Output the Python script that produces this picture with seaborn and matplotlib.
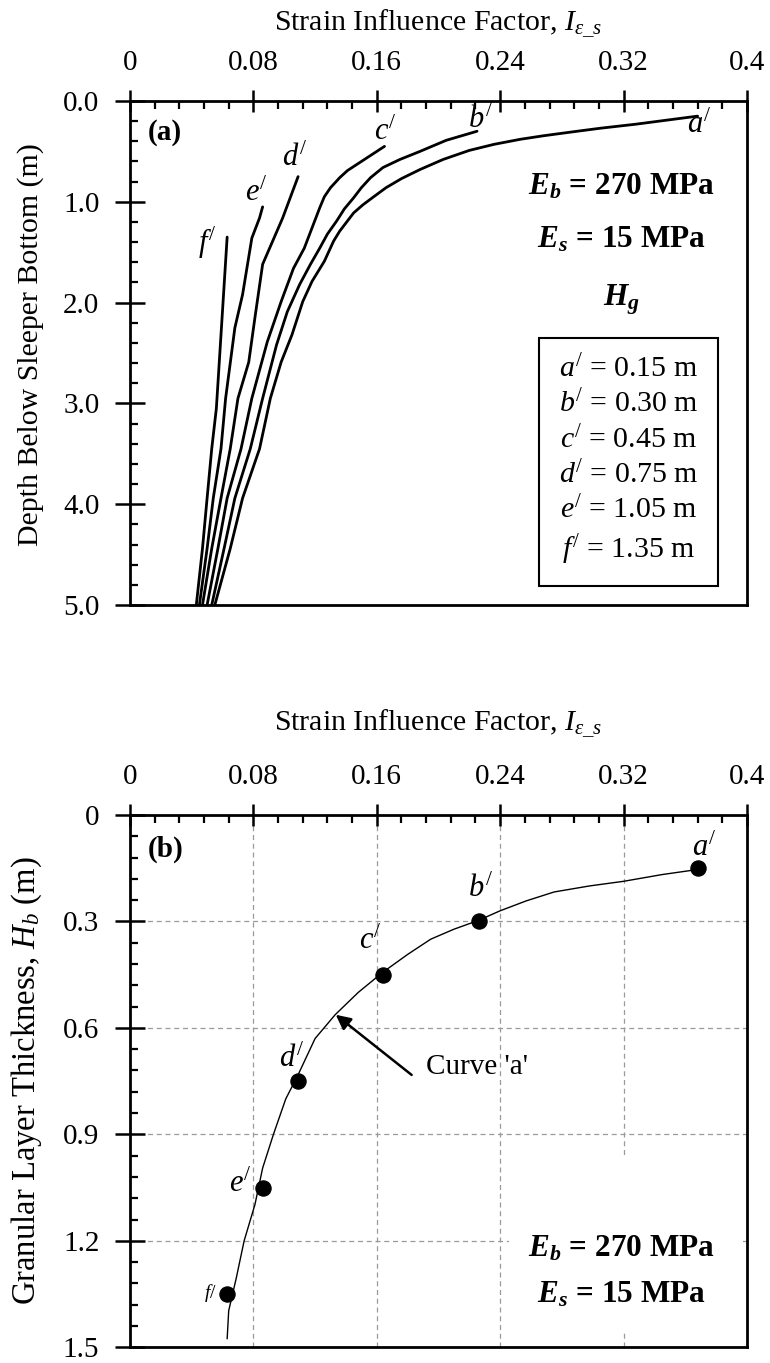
import numpy as np
import pandas as pd
import matplotlib
matplotlib.use("Agg")
import matplotlib.pyplot as plt
import seaborn as sns
from matplotlib.patches import Rectangle
from matplotlib.ticker import FixedLocator, MultipleLocator

# curve names and granular layer thickness H_g (m)
curve_names = ["a", "b", "c", "d", "e", "f"]
hg_values = [0.15, 0.30, 0.45, 0.75, 1.05, 1.35]

# panel (a): strain influence factor vs depth below sleeper bottom
a_factor = [0.368, 0.348, 0.328, 0.305, 0.285, 0.268, 0.253, 0.236, 0.220, 0.203,
            0.188, 0.176, 0.166, 0.158, 0.151, 0.145, 0.141, 0.136, 0.132, 0.126,
            0.118, 0.112, 0.105, 0.098, 0.091, 0.084, 0.073, 0.065, 0.055]
a_depth = [0.15, 0.19, 0.23, 0.27, 0.31, 0.345, 0.38, 0.43, 0.49, 0.58,
           0.68, 0.77, 0.86, 0.95, 1.03, 1.11, 1.19, 1.29, 1.39, 1.59,
           1.79, 1.99, 2.32, 2.59, 2.95, 3.45, 3.94, 4.44, 5.0]
b_factor = [0.225, 0.205, 0.188, 0.175, 0.164, 0.156, 0.150, 0.145, 0.139, 0.134,
            0.128, 0.123, 0.117, 0.110, 0.102, 0.095, 0.086, 0.078, 0.068, 0.061, 0.053]
b_depth = [0.30, 0.39, 0.50, 0.58, 0.66, 0.76, 0.86, 0.96, 1.07, 1.19,
           1.32, 1.46, 1.62, 1.82, 2.09, 2.42, 2.95, 3.45, 3.94, 4.44, 5.0]
c_factor = [0.165, 0.150, 0.141, 0.136, 0.130, 0.126, 0.123, 0.118, 0.113, 0.106,
            0.098, 0.089, 0.079, 0.072, 0.063, 0.057, 0.050]
c_depth = [0.45, 0.60, 0.69, 0.76, 0.86, 0.95, 1.06, 1.26, 1.46, 1.66,
           1.99, 2.39, 2.95, 3.45, 3.94, 4.44, 5.0]
d_factor = [0.109, 0.099, 0.086, 0.081, 0.077, 0.070, 0.065, 0.059, 0.053, 0.047]
d_depth = [0.75, 1.16, 1.62, 2.15, 2.59, 2.95, 3.45, 3.94, 4.44, 5.0]
e_factor = [0.086, 0.084, 0.079, 0.073, 0.068, 0.062, 0.059, 0.054, 0.050, 0.045]
e_depth = [1.05, 1.16, 1.36, 1.92, 2.25, 2.95, 3.45, 3.94, 4.44, 5.0]
f_factor = [0.063, 0.056, 0.053, 0.050, 0.047, 0.043]
f_depth = [1.35, 3.05, 3.45, 3.94, 4.44, 5.0]

# panel (b): top value of each curve vs H_g, and the fitted curve 'a'
point_factor = [0.368, 0.226, 0.164, 0.109, 0.086, 0.063]
fit_factor = [0.366, 0.345, 0.320, 0.298, 0.275, 0.257, 0.240, 0.226, 0.210, 0.195,
              0.180, 0.164, 0.148, 0.133, 0.120, 0.109, 0.101, 0.093, 0.086, 0.081,
              0.074, 0.069, 0.064, 0.063]
fit_hg = [0.155, 0.168, 0.187, 0.200, 0.217, 0.242, 0.270, 0.297, 0.322, 0.350,
          0.393, 0.443, 0.500, 0.563, 0.630, 0.732, 0.800, 0.900, 0.995, 1.098,
          1.200, 1.303, 1.397, 1.476]

x_ticks = [0, 0.08, 0.16, 0.24, 0.32, 0.4]
x_labels = ["0", "0.08", "0.16", "0.24", "0.32", "0.4"]
depth_ticks = [0, 1, 2, 3, 4, 5]
depth_labels = ["0.0", "1.0", "2.0", "3.0", "4.0", "5.0"]
hb_ticks = [0, 0.3, 0.6, 0.9, 1.2, 1.5]
hb_labels = ["0", "0.3", "0.6", "0.9", "1.2", "1.5"]

sns.set_theme(style="white")
plt.rcParams.update({
    "font.family": ["Liberation Serif", "DejaVu Serif"],
    "mathtext.fontset": "custom",
    "mathtext.rm": "Liberation Serif",
    "mathtext.it": "Liberation Serif:italic",
    "mathtext.bf": "Liberation Serif:bold",
    "mathtext.bfit": "Liberation Serif:italic:bold",
    "axes.edgecolor": "black",
    "axes.linewidth": 2.0,
    "text.color": "black",
    "axes.labelcolor": "black",
    "xtick.color": "black",
    "ytick.color": "black",
})

FS = 21
curves = pd.concat([
    pd.DataFrame({"factor": a_factor, "depth": a_depth, "curve": "a"}),
    pd.DataFrame({"factor": b_factor, "depth": b_depth, "curve": "b"}),
    pd.DataFrame({"factor": c_factor, "depth": c_depth, "curve": "c"}),
    pd.DataFrame({"factor": d_factor, "depth": d_depth, "curve": "d"}),
    pd.DataFrame({"factor": e_factor, "depth": e_depth, "curve": "e"}),
    pd.DataFrame({"factor": f_factor, "depth": f_depth, "curve": "f"}),
])

fig = plt.figure(figsize=(7.7, 13.63), dpi=100)
ax1 = fig.add_axes([0.1688, 0.5561, 0.8013, 0.3698])
ax2 = fig.add_axes([0.1688, 0.0115, 0.8013, 0.3906])


def style_axes(ax, yticks, ylabels, yminor):
    ax.xaxis.set_major_locator(FixedLocator(x_ticks))
    ax.set_xticklabels(x_labels)
    ax.xaxis.set_minor_locator(MultipleLocator(0.016))
    ax.yaxis.set_major_locator(FixedLocator(yticks))
    ax.set_yticklabels(ylabels)
    ax.yaxis.set_minor_locator(MultipleLocator(yminor))
    ax.xaxis.tick_top()
    ax.xaxis.set_label_position("top")
    ax.tick_params(axis="x", which="major", top=True, bottom=False, labeltop=True,
                   labelbottom=False, direction="inout", length=16, width=1.8,
                   pad=10, labelsize=FS)
    ax.tick_params(axis="x", which="minor", top=True, bottom=False,
                   direction="in", length=6, width=1.6)
    ax.tick_params(axis="y", which="major", left=True, right=False,
                   direction="inout", length=22, width=1.8, pad=11, labelsize=FS)
    ax.tick_params(axis="y", which="minor", left=True, right=False,
                   direction="in", length=6, width=1.6)
    for s in ax.spines.values():
        s.set_linewidth(2.0)
        s.set_color("black")


# (a)
sns.lineplot(data=curves, x="factor", y="depth", units="curve", estimator=None,
             sort=False, color="black", lw=2.0, ax=ax1)
ax1.set_xlim(0, 0.4)
ax1.set_ylim(5, 0)
style_axes(ax1, depth_ticks, depth_labels, 0.2)
ax1.set_xlabel("Strain Influence Factor, $I_{\\varepsilon\\_s}$", fontsize=21.5, labelpad=14)
ax1.set_ylabel("Depth Below Sleeper Bottom (m)", fontsize=21.5)
ax1.yaxis.set_label_coords(-0.14, 0.516)

top_label_pos = [(0.369, 0.245), (0.2276, 0.19), (0.1655, 0.315),
                 (0.1066, 0.574), (0.082, 0.92), (0.0503, 1.41)]
for n, (x, y) in zip(curve_names, top_label_pos):
    ax1.text(x, y, f"${n}^{{/}}$", fontsize=FS + 1, ha="center", va="center")

ax1.text(0.028, 0.937, "(a)", transform=ax1.transAxes, fontsize=FS,
         fontweight="bold", ha="left", va="center")
ax1.text(0.797, 0.829, "$\\mathbfit{E}_\\mathbfit{b}$ = 270 MPa", transform=ax1.transAxes,
         fontsize=22.5, fontweight="bold", ha="center", va="center")
ax1.text(0.797, 0.724, "$\\mathbfit{E}_\\mathbfit{s}$ = 15 MPa", transform=ax1.transAxes,
         fontsize=22.5, fontweight="bold", ha="center", va="center")
ax1.text(0.797, 0.605, "$\\mathbfit{H}_\\mathbfit{g}$", transform=ax1.transAxes,
         fontsize=22.5, fontweight="bold", ha="center", va="center")
legend_text = "\n".join(f"${n}^{{/}}$ = {h:.2f} m" for n, h in zip(curve_names, hg_values))
ax1.text(0.808, 0.286, legend_text, transform=ax1.transAxes, fontsize=21.5,
         ha="center", va="center", multialignment="center", linespacing=1.3,
         bbox=dict(boxstyle="square,pad=0.65", fc="white", ec="black", lw=1.5))

# (b)
ax2.grid(True, which="major", ls=(0, (4, 3)), color="#9a9a9a", lw=0.9)
ax2.set_axisbelow(True)
ax2.add_patch(Rectangle((0.614, 0.031), 0.376, 0.33, transform=ax2.transAxes,
                        fc="white", ec="none", zorder=1))
sns.lineplot(x=fit_factor, y=fit_hg, sort=False, estimator=None, color="black",
             lw=1.0, ax=ax2, zorder=3)
sns.scatterplot(x=point_factor, y=hg_values, s=120, color="black", edgecolor="black",
                ax=ax2, zorder=4)
ax2.set_xlim(0, 0.4)
ax2.set_ylim(1.5, 0)
style_axes(ax2, hb_ticks, hb_labels, 0.06)
ax2.set_xlabel("Strain Influence Factor, $I_{\\varepsilon\\_s}$", fontsize=21.5, labelpad=24)
ax2.set_ylabel("Granular Layer Thickness, $H_b$ (m)", fontsize=23.5)
ax2.yaxis.set_label_coords(-0.14, 0.5)

bot_label_pos = [(0.3724, 0.095), (0.2274, 0.21), (0.1557, 0.355),
                 (0.1047, 0.69), (0.0717, 1.04)]
for n, (x, y) in zip(curve_names[:5], bot_label_pos):
    ax2.text(x, y, f"${n}^{{/}}$", fontsize=FS + 1, ha="center", va="center")
ax2.text(0.0523, 1.346, "$f$/", fontsize=14, ha="center", va="center")

ax2.annotate("", xy=(0.1334, 0.563), xytext=(0.1826, 0.7325),
             arrowprops=dict(arrowstyle="-|>", color="black", lw=1.8,
                             mutation_scale=22, shrinkA=0, shrinkB=0))
ax2.text(0.192, 0.709, "Curve 'a'", fontsize=FS, ha="left", va="center")

ax2.text(0.028, 0.936, "(b)", transform=ax2.transAxes, fontsize=FS,
         fontweight="bold", ha="left", va="center")
ax2.text(0.797, 0.185, "$\\mathbfit{E}_\\mathbfit{b}$ = 270 MPa", transform=ax2.transAxes,
         fontsize=22.5, fontweight="bold", ha="center", va="center", zorder=5)
ax2.text(0.797, 0.099, "$\\mathbfit{E}_\\mathbfit{s}$ = 15 MPa", transform=ax2.transAxes,
         fontsize=22.5, fontweight="bold", ha="center", va="center", zorder=5)

fig.savefig("out.png", dpi=100)
